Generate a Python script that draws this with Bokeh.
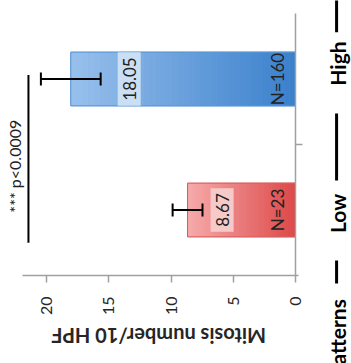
from math import pi
from bokeh.plotting import figure
from bokeh.models import (Range1d, FixedTicker, Label, Whisker, ColumnDataSource,
                          TeeHead, Arrow)
from bokeh.embed import file_html
from bokeh.resources import INLINE

# ---------------- data ----------------
categories = ["Low", "High"]
means = [8.67, 18.05]
errors = [1.2, 2.4]
counts = [23, 160]
value_ticks = [0, 5, 10, 15, 20]
axis_title = "Mitosis number/10 HPF"
sig_text = "***  p<0.0009"
group_title = "patterns"

# ---------------- style ----------------
FONT = "Lato"
base_rgb = [(221, 72, 72), (58, 128, 204)]
tip_rgb = [(246, 170, 170), (152, 192, 236)]
edge_colors = ["#d65a5a", "#5592d2"]
box_colors = ["#f7caca", "#cadff4"]
label_frac = [0.68, 0.74]
cat_label_shift = [-0.027, 0.118]
BAR_H = 0.41
AXIS_GREY = "#a0a0a0"
PX_PER_UNIT_X = 12.45
PX_PER_UNIT_Y = 131.0
CAT_LABEL_X = -3.37

ypos = [i + 0.5 for i in range(len(categories))]

# frame covers the whole canvas; axes are pinned with fixed_location
x_start = 295 / PX_PER_UNIT_X
x_end = (295 - 351) / PX_PER_UNIT_X
y_top = 275 / PX_PER_UNIT_Y
y_bot = (275 - 363) / PX_PER_UNIT_Y

p = figure(width=351, height=363, output_backend="svg", toolbar_location=None,
           x_range=Range1d(x_start, x_end), y_range=Range1d(y_bot, y_top),
           y_axis_location="right", min_border=0,
           min_border_left=0, min_border_top=0, min_border_right=0,
           min_border_bottom=0)
p.outline_line_color = None
p.grid.visible = False
p.background_fill_color = "white"
p.border_fill_color = "white"

# gradient bars
n = 40
seg = dict(y=[], left=[], right=[], color=[])
for i, v in enumerate(means):
    c0, c1 = base_rgb[i], tip_rgb[i]
    for k in range(n):
        t = (k + 0.5) / n
        col = tuple(int(round(a + (b - a) * t)) for a, b in zip(c0, c1))
        seg["y"].append(ypos[i])
        seg["left"].append(v * k / n)
        seg["right"].append(v * (k + 1) / n)
        seg["color"].append("#%02x%02x%02x" % col)
p.hbar(y="y", left="left", right="right", height=BAR_H, color="color",
       line_width=1, source=ColumnDataSource(seg))
p.hbar(y=ypos, left=0, right=means, height=BAR_H, fill_color=None,
       line_color=edge_colors, line_width=1)

# value labels with light boxes
for i, v in enumerate(means):
    p.add_layout(Label(x=v * label_frac[i], y=ypos[i], text=f"{v:.2f}",
                       angle=pi / 2, text_align="center", text_baseline="middle",
                       text_font=FONT, text_font_size="17px", text_color="#222222",
                       background_fill_color=box_colors[i], padding=5))

# N labels
p.text(x=[1.45] * len(counts), y=ypos, text=[f"N={c}" for c in counts],
       angle=pi / 2, text_align="center", text_baseline="middle",
       text_font={"value": FONT}, text_font_size="17px", text_color="#222222")

# error bars
esrc = ColumnDataSource(dict(base=ypos,
                             lower=[m - e for m, e in zip(means, errors)],
                             upper=[m + e for m, e in zip(means, errors)]))
p.add_layout(Whisker(source=esrc, base="base", lower="lower", upper="upper",
                     dimension="width", line_width=2, line_color="black",
                     level="overlay",
                     lower_head=TeeHead(size=13, line_width=2, line_color="black"),
                     upper_head=TeeHead(size=13, line_width=2, line_color="black")))

# significance bracket
bx = max(m + e for m, e in zip(means, errors)) + 1.0
y0b, y1b = ypos[0] - 0.25, ypos[-1] + 0.03
p.segment(x0=[bx], y0=[y0b], x1=[bx], y1=[y1b], line_width=2, line_color="black")
p.text(x=[bx + 1.15], y=[(y0b + y1b) / 2 - 0.04], text=[sig_text], angle=pi / 2,
       text_align="center", text_baseline="middle", text_font={"value": FONT},
       text_font_size="16px", text_color="#222222")

# value axis (pinned at category baseline)
xa = p.xaxis[0]
xa.fixed_location = 0
xa.ticker = FixedTicker(ticks=value_ticks)
xa.bounds = (-0.25, 21.9)
xa.axis_line_color = AXIS_GREY
xa.axis_line_width = 1.5
xa.major_tick_line_color = AXIS_GREY
xa.major_tick_line_width = 1.5
xa.major_tick_in = 0
xa.major_tick_out = 7
xa.minor_tick_line_color = None
xa.major_label_orientation = pi / 2
xa.major_label_standoff = 14
xa.major_label_text_font = FONT
xa.major_label_text_font_size = "16px"
xa.major_label_text_color = "#262626"

p.add_layout(Label(x=11.0, y=-0.46, text=axis_title, angle=pi,
                   text_align="center", text_baseline="middle",
                   text_font=FONT, text_font_size="20px", text_font_style="bold",
                   text_color="#262626"))

# category axis (pinned at value 0); separator tick between categories
ya = p.yaxis[0]
ya.fixed_location = 0
ya.ticker = FixedTicker(ticks=[], minor_ticks=[1.0])
ya.bounds = (0, 2)
ya.axis_line_color = AXIS_GREY
ya.axis_line_width = 1.5
ya.major_tick_line_color = None
ya.major_label_text_font_size = "0px"
ya.minor_tick_line_color = AXIS_GREY
ya.minor_tick_line_width = 1.5
ya.minor_tick_in = 0
ya.minor_tick_out = 7

# category names
for c, y, d in zip(categories, ypos, cat_label_shift):
    p.add_layout(Label(x=CAT_LABEL_X, y=y + d, text=c, angle=pi / 2,
                       text_align="center", text_baseline="middle",
                       text_font=FONT, text_font_size="21px",
                       text_font_style="bold", text_color="black"))

# decorative rules next to category labels
for ys, ye in [(2.2, 1.856), (1.237, 0.725), (0.115, -0.061)]:
    p.add_layout(Arrow(start=None, end=None, x_start=-3.3, x_end=-3.3,
                       y_start=ys, y_end=ye, line_width=3, line_color="black"))
p.add_layout(Label(x=CAT_LABEL_X, y=-0.18, text=group_title, angle=pi / 2,
                   text_align="right", text_baseline="middle",
                   text_font=FONT, text_font_size="21px", text_font_style="bold",
                   text_color="black"))

open("out.html", "w").write(file_html(p, INLINE))
